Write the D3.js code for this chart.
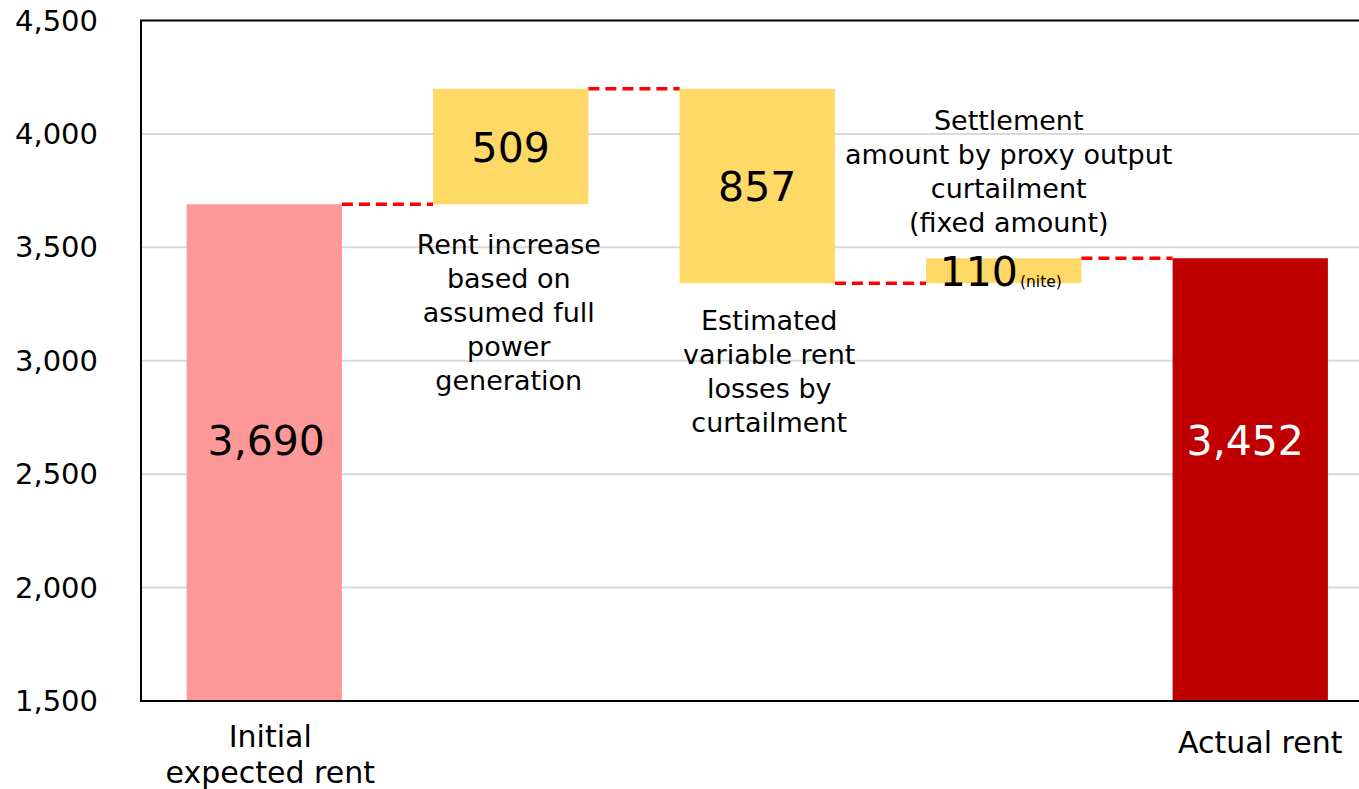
<!DOCTYPE html>
<html>
<head>
<meta charset="utf-8">
<script src="https://cdn.jsdelivr.net/npm/d3@7/dist/d3.min.js"></script>
<style>
  body { margin: 0; background: #fff; }
  svg { display: block; font-family: "DejaVu Sans", Verdana, sans-serif; }
</style>
</head>
<body>
<svg id="chart" width="1359" height="789"></svg>
<script>
// chart values
var categories = ["Initial expected rent", "Rent increase", "Estimated losses", "Settlement", "Actual rent"];
var values = [3690, 509, -857, 110, 3452];
var kinds = ["total", "delta", "delta", "delta", "total"];
var categoryLabels = [["Initial", "expected rent"], [], [], [], ["Actual rent"]];
var valueLabels = ["3,690", "509", "857", "110", "3,452"];
var notes = [
  [],
  ["Rent increase", "based on", "assumed full", "power", "generation"],
  ["Estimated", "variable rent", "losses by", "curtailment"],
  ["Settlement", "amount by proxy output", "curtailment", "(fixed amount)"],
  []
];
var yTicks = [1500, 2000, 2500, 3000, 3500, 4000, 4500];

(function() {
  "use strict";

  var svg = d3.select("#chart");
  var left = 141, top = 20.5, bottom = 701, step = 246.5;

  var y = d3.scaleLinear().domain([1500, 4500]).range([bottom, top]);
  var x = d3.scaleBand().domain(categories)
    .range([left, left + step * categories.length])
    .paddingInner(0.37).paddingOuter(0.185);

  // work out floating bar extents
  var running = 0;
  var bars = categories.map(function(c, i) {
    var from, to;
    if (kinds[i] === "total") { from = 1500; to = values[i]; running = values[i]; }
    else { from = running; to = running + values[i]; running = to; }
    return { cat: c, i: i, lo: Math.min(from, to), hi: Math.max(from, to), end: to, kind: kinds[i] };
  });
  var fills = ["#ff9999", "#ffd966", "#ffd966", "#ffd966", "#c00000"];

  // gridlines
  svg.append("g").selectAll("line").data(yTicks.slice(1, -1)).join("line")
    .attr("x1", left).attr("x2", 1359)
    .attr("y1", function(d) { return y(d); }).attr("y2", function(d) { return y(d); })
    .attr("stroke", "#d9d9d9").attr("stroke-width", 2);

  // tick labels
  svg.append("g").selectAll("text").data(yTicks).join("text")
    .attr("x", 98).attr("y", function(d) { return y(d) + 10; })
    .attr("text-anchor", "end").attr("font-size", 29).attr("fill", "#000")
    .text(d3.format(","));

  // bars
  svg.append("g").selectAll("rect").data(bars).join("rect")
    .attr("x", function(d) { return x(d.cat); })
    .attr("width", x.bandwidth())
    .attr("y", function(d) { return y(d.hi); })
    .attr("height", function(d) { return y(d.lo) - y(d.hi); })
    .attr("fill", function(d) { return fills[d.i]; });

  // dashed connectors
  var links = bars.slice(0, -1).map(function(d, i) { return { a: d, b: bars[i + 1], v: d.end }; });
  svg.append("g").selectAll("line").data(links).join("line")
    .attr("x1", function(d) { return x(d.a.cat) + x.bandwidth(); })
    .attr("x2", function(d) { return x(d.b.cat); })
    .attr("y1", function(d) { return y(d.v); }).attr("y2", function(d) { return y(d.v); })
    .attr("stroke", "#ff0000").attr("stroke-width", 3.5).attr("stroke-dasharray", "11,6");

  // frame
  svg.append("path")
    .attr("d", "M1359," + top + "H" + left + "V" + bottom + "H1359")
    .attr("fill", "none").attr("stroke", "#000").attr("stroke-width", 2);

  // value labels
  var labelDx = [2, 0, 0, -3, -5];
  var vl = svg.append("g").selectAll("text").data(bars).join("text")
    .attr("x", function(d) { return x(d.cat) + x.bandwidth() / 2 + labelDx[d.i]; })
    .attr("y", function(d) {
      var mid = d.kind === "total" ? y(2650) : (y(d.lo) + y(d.hi)) / 2;
      return mid + 15;
    })
    .attr("text-anchor", "middle").attr("font-size", 41)
    .attr("fill", function(d) { return d.i === 4 ? "#fff" : "#000"; })
    .text(function(d) { return valueLabels[d.i]; });
  // small unit note after the 110 label
  vl.filter(function(d) { return d.i === 3; })
    .append("tspan").attr("font-size", 15.5).attr("dx", 2).attr("dy", 1).text("(nite)");

  // annotations
  var noteDx = [0, -2, 12, 5, 0];
  var noteTop = [0, 254, 330, 130, 0];
  bars.forEach(function(d) {
    var g = svg.append("text").attr("text-anchor", "middle").attr("font-size", 27).attr("fill", "#000");
    notes[d.i].forEach(function(line, k) {
      g.append("tspan").attr("x", x(d.cat) + x.bandwidth() / 2 + noteDx[d.i])
        .attr("y", noteTop[d.i] + k * 34).text(line);
    });
  });

  // category labels
  var catY = [[747, 783], [], [], [], [753]];
  bars.forEach(function(d) {
    var t = svg.append("text").attr("text-anchor", "middle").attr("font-size", 30).attr("fill", "#000");
    categoryLabels[d.i].forEach(function(line, k) {
      t.append("tspan").attr("x", x(d.cat) + x.bandwidth() / 2 + (d.i === 4 ? 10 : 6))
        .attr("y", catY[d.i][k]).text(line);
    });
  });
})();
</script>
</body>
</html>
